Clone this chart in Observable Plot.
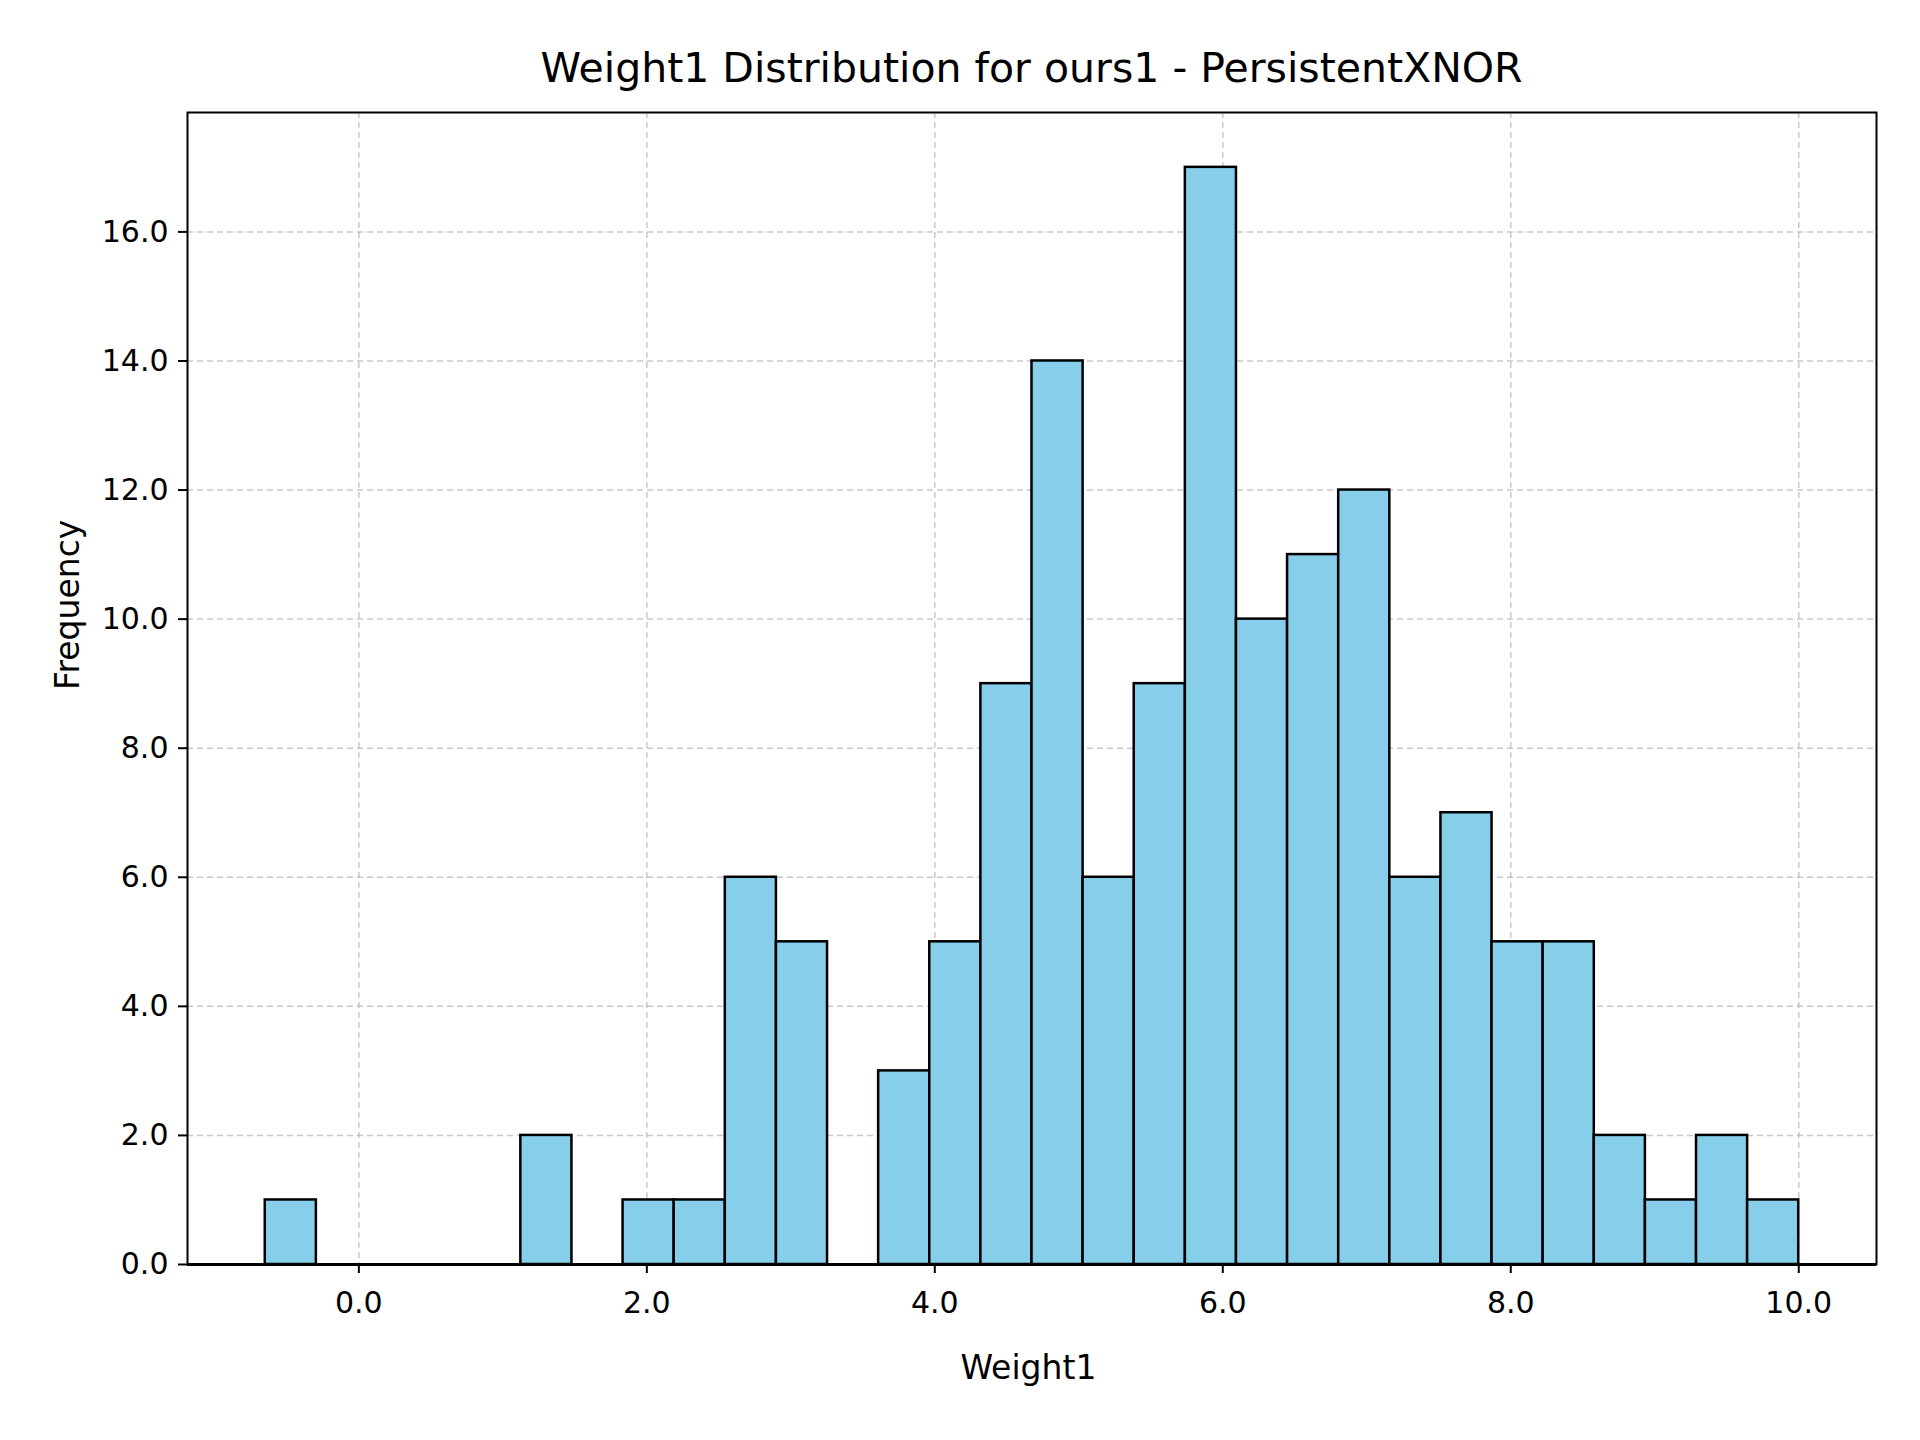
<!DOCTYPE html>
<html><head><meta charset="utf-8">
<script src="https://cdn.jsdelivr.net/npm/d3@7"></script>
<script src="https://cdn.jsdelivr.net/npm/@observablehq/plot@0.6"></script>
<style>
body{margin:0;background:#fff;font-family:"DejaVu Sans",sans-serif}
#wrap{position:relative;width:1920px;height:1440px}
#title{position:absolute;top:44px;left:187px;width:1689px;text-align:center;font-size:41px;color:#000}
</style></head>
<body><div id="wrap"><div id="title">Weight1 Distribution for ours1 - PersistentXNOR</div><div id="graph"></div></div>
<script>
// histogram: 30 bins from -0.65 to 10.0
const binStart = -0.65;
const binEnd = 10.0;
const counts = [1,0,0,0,0,2,0,1,1,6,5,0,3,5,9,14,6,9,17,10,11,12,6,7,5,5,2,1,2,1];
const xTicks = [0,2,4,6,8,10];
const yTicks = [0,2,4,6,8,10,12,14,16];

const w = (binEnd - binStart) / counts.length;
const bins = counts.map((c, i) => ({x1: binStart + i*w, x2: binStart + (i+1)*w, n: c}));

const chart = Plot.plot({
  width: 1920, height: 1440,
  marginLeft: 187, marginRight: 44, marginTop: 112, marginBottom: 176,
  style: {fontFamily: "DejaVu Sans", fontSize: "30px", color: "#000"},
  x: {domain: [-1.19, 10.54], label: null},
  y: {domain: [0, 17.85], label: null},
  marks: [
    Plot.gridX(xTicks, {stroke: "#b0b0b0", strokeOpacity: 0.7, strokeDasharray: "6,4", strokeWidth: 1.5}),
    Plot.gridY(yTicks, {stroke: "#b0b0b0", strokeOpacity: 0.7, strokeDasharray: "6,4", strokeWidth: 1.5}),
    Plot.rectY(bins, {x1: "x1", x2: "x2", y: "n", fill: "#87ceeb", stroke: "#000", strokeWidth: 2.5}),
    Plot.ruleY([0], {stroke: "#000", strokeWidth: 3}),
    Plot.frame({stroke: "#000", strokeWidth: 2}),
    Plot.axisX(xTicks, {tickSize: 9, tickPadding: 18, strokeWidth: 2, fontSize: 30, label: null}),
    Plot.axisY(yTicks, {tickSize: 9, tickPadding: 10, strokeWidth: 2, fontSize: 30, label: null}),
    Plot.text(["Weight1"], {x: 4.65, frameAnchor: "bottom", dy: 114, fontSize: 33}),
    Plot.text(["Frequency"], {y: 8.9, frameAnchor: "left", dx: -119, rotate: -90, fontSize: 33})
  ]
});
d3.select("#graph").append(() => chart);
</script></body></html>
